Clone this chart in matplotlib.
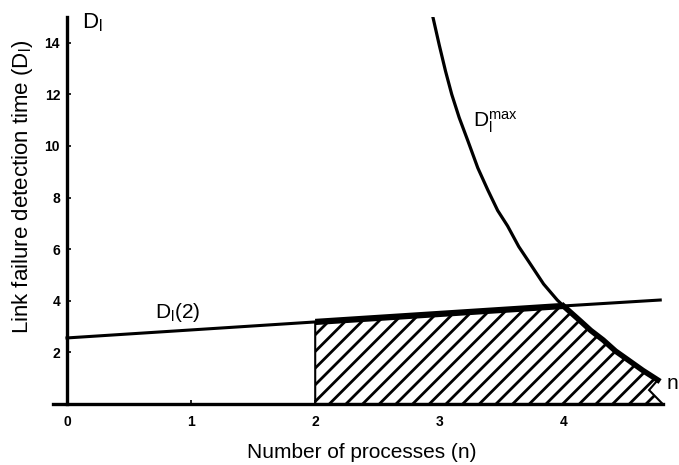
import matplotlib
matplotlib.use("Agg")
import matplotlib.pyplot as plt

# Values
x_ticks = [0, 1, 2, 3, 4]
x_tick_labels = ["0", "1", "2", "3", "4"]
y_ticks = [2, 4, 6, 8, 10, 12, 14]
y_tick_labels = ["2", "4", "6", "8", "10", "12", "14"]

# D_l(2) straight line
line_n = [0.0, 2.0, 4.0, 4.78]
line_d = [2.56, 3.18, 3.80, 4.03]

# D_l^max curve
dmax_n = [2.95, 3.00, 3.05, 3.10, 3.16, 3.23, 3.31, 3.39, 3.47, 3.55, 3.64,
          3.73, 3.84, 3.95, 4.00, 4.14, 4.22, 4.32, 4.42, 4.52, 4.64, 4.76]
dmax_d = [14.96, 13.9, 12.9, 12.0, 11.1, 10.2, 9.15, 8.3, 7.5, 6.9, 6.1,
          5.45, 4.65, 4.03, 3.80, 3.2, 2.85, 2.48, 2.05, 1.71, 1.3, 0.93]

# hatched (feasible) region outline
region_n = [2.0, 2.0, 4.0, 4.14, 4.22, 4.32, 4.42, 4.52, 4.64, 4.76, 4.69, 4.80]
region_d = [0.0, 3.18, 3.80, 3.2, 2.85, 2.48, 2.05, 1.71, 1.3, 0.93, 0.54, 0.0]

plt.rcParams['font.family'] = ['Liberation Sans', 'DejaVu Sans']
plt.rcParams['mathtext.default'] = 'regular'
plt.rcParams['hatch.linewidth'] = 2.0
plt.rcParams['hatch.color'] = 'black'

fig = plt.figure(figsize=(6.79, 4.65), dpi=100)
ax = fig.add_axes([0.078, 0.1312, 0.909, 0.8323])
ax.set_xlim(-0.113, 4.86)
ax.set_ylim(0, 15)

# hatched region
ax.fill(region_n, region_d, facecolor='white', edgecolor='black',
        hatch='//', linewidth=1.5, zorder=2)

# D_l(2) line and D_l^max curve
ax.plot(line_n, line_d, color='black', lw=2.2, zorder=3)
ax.plot(dmax_n, dmax_d, color='black', lw=2.3, zorder=3)

# thick border on top of the region
ax.plot(line_n[1:3], line_d[1:3], color='black', lw=4.5, zorder=4,
        solid_capstyle='butt')
ax.plot(region_n[2:10], region_d[2:10], color='black', lw=4.0, zorder=4)

# axes styling
for side in ['top', 'right']:
    ax.spines[side].set_visible(False)
ax.spines['left'].set_position(('data', 0))
ax.spines['left'].set_bounds(0, 15)
ax.spines['bottom'].set_bounds(-0.113, 4.8)
ax.spines['left'].set_linewidth(2.4)
ax.spines['bottom'].set_linewidth(2.4)

ax.set_xticks(x_ticks)
ax.set_xticklabels(x_tick_labels, fontsize=10, fontweight='bold')
ax.set_yticks(y_ticks)
ax.set_yticklabels(y_tick_labels, fontsize=10, fontweight='bold')
ax.tick_params(axis='x', direction='in', length=3, width=1.2, pad=8)
ax.tick_params(axis='y', direction='in', length=3, width=1.2, pad=5)

ax.set_xlabel('Number of processes (n)', fontsize=15, labelpad=10)
ax.text(-0.36, 8.4, 'Link failure detection time (D$_l$)', rotation=90,
        fontsize=16, ha='center', va='center', clip_on=False)

# curve labels
ax.text(0.12, 14.57, 'D$_l$', fontsize=16, ha='left', va='baseline')
ax.text(0.71, 3.33, 'D$_l$(2)', fontsize=15, ha='left', va='baseline')
ax.text(3.27, 10.74, 'D$_l^{max}$', fontsize=15, ha='left', va='baseline')
fig.text(0.999, 0.175, 'n', fontsize=15, ha='right', va='center')

fig.savefig('out.png', dpi=100)
